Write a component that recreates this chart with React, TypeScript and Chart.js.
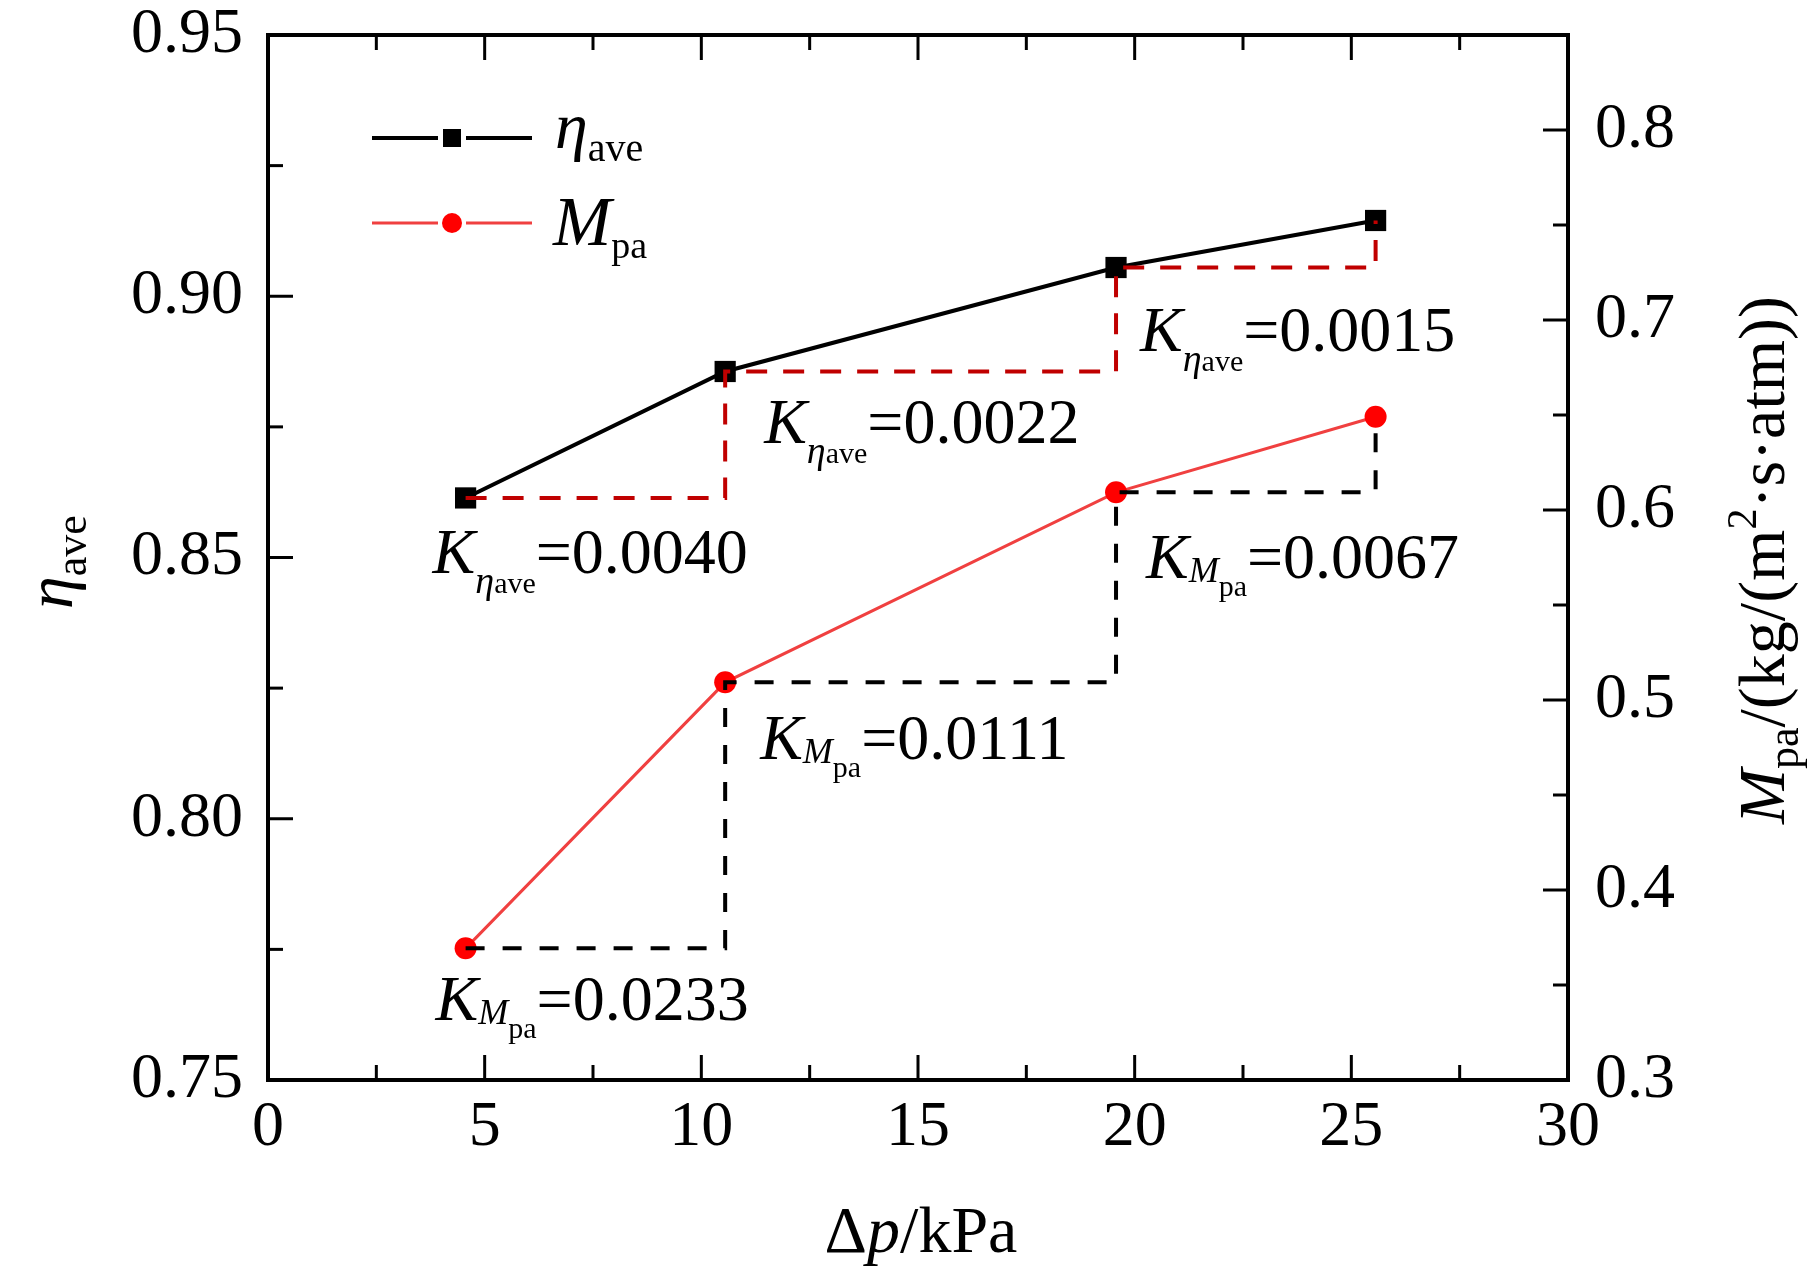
import { useEffect, useRef } from 'react'
import Chart from 'chart.js/auto'

// values
const pressureDrop = [4.56, 10.55, 19.57, 25.56]
const etaAve = [0.8614, 0.8856, 0.9055, 0.9145]
const massFlux = [0.3693, 0.5093, 0.6093, 0.6491]
const etaSlopes = ['0.0040', '0.0022', '0.0015']
const massSlopes = ['0.0233', '0.0111', '0.0067']

const xTicks = [0, 5, 10, 15, 20, 25, 30]
const xMinorTicks = [2.5, 7.5, 12.5, 17.5, 22.5, 27.5]
const etaTicks = [0.75, 0.8, 0.85, 0.9, 0.95]
const etaMinorTicks = [0.775, 0.825, 0.875, 0.925]
const massTicks = [0.3, 0.4, 0.5, 0.6, 0.7, 0.8]
const massMinorTicks = [0.35, 0.45, 0.55, 0.65, 0.75]

const SERIF = '"Liberation Serif", "Times New Roman", Times, serif'

type Seg = { t: string; size: number; italic?: boolean; dy?: number; dx?: number }

function fontOf(s: Seg) {
  return `${s.italic ? 'italic ' : ''}${s.size}px ${SERIF}`
}

function richWidth(ctx: CanvasRenderingContext2D, segs: Seg[]) {
  let w = 0
  for (const s of segs) {
    ctx.font = fontOf(s)
    w += ctx.measureText(s.t).width + (s.dx ?? 0)
  }
  return w
}

function drawRich(ctx: CanvasRenderingContext2D, segs: Seg[], x: number, y: number, center = false) {
  let cx = center ? x - richWidth(ctx, segs) / 2 : x
  ctx.textAlign = 'left'
  ctx.textBaseline = 'alphabetic'
  ctx.fillStyle = '#000'
  for (const s of segs) {
    ctx.font = fontOf(s)
    cx += s.dx ?? 0
    ctx.fillText(s.t, cx, y + (s.dy ?? 0))
    cx += ctx.measureText(s.t).width
  }
}

const etaLabel = (v: string): Seg[] => [
  { t: 'K', size: 64, italic: true },
  { t: 'η', size: 38, italic: true, dy: 20 },
  { t: 'ave', size: 30, dy: 20 },
  { t: '=' + v, size: 64 },
]

const massLabel = (v: string): Seg[] => [
  { t: 'K', size: 64, italic: true },
  { t: 'M', size: 36, italic: true, dy: 4 },
  { t: 'pa', size: 30, dy: 18 },
  { t: '=' + v, size: 64 },
]

// pixel offsets of each slope label from the point it starts at
const etaLabelOffsets = [[-33, 75], [39, 72], [24, 83]]
const massLabelOffsets = [[-30, 72], [35, 77], [30, 86]]

const noScalePadding = (s: any) => {
  s.paddingTop = 0
  s.paddingBottom = 0
  s.paddingLeft = 0
  s.paddingRight = 0
}

const framePlugin = {
  id: 'frame',
  afterDatasetsDraw(chart: any) {
    const { ctx, chartArea: a, scales } = chart
    ctx.save()
    ctx.strokeStyle = '#000'
    ctx.lineWidth = 4
    ctx.strokeRect(a.left, a.top, a.right - a.left, a.bottom - a.top)
    ctx.lineWidth = 3
    const line = (x1: number, y1: number, x2: number, y2: number) => {
      ctx.beginPath()
      ctx.moveTo(x1, y1)
      ctx.lineTo(x2, y2)
      ctx.stroke()
    }
    const xs = (vals: number[], len: number) => {
      for (const v of vals) {
        const p = scales.x.getPixelForValue(v)
        line(p, a.bottom, p, a.bottom - len)
        line(p, a.top, p, a.top + len)
      }
    }
    xs(xTicks, 25)
    xs(xMinorTicks, 15)
    for (const [vals, len] of [[etaTicks, 25], [etaMinorTicks, 15]] as [number[], number][]) {
      for (const v of vals) {
        const p = scales.yL.getPixelForValue(v)
        line(a.left, p, a.left + len, p)
      }
    }
    for (const [vals, len] of [[massTicks, 25], [massMinorTicks, 15]] as [number[], number][]) {
      for (const v of vals) {
        const p = scales.yR.getPixelForValue(v)
        line(a.right, p, a.right - len, p)
      }
    }
    ctx.restore()
  },
  afterDraw(chart: any) {
    const { ctx, scales } = chart
    ctx.save()

    // slope labels
    etaSlopes.forEach((v, i) => {
      const px = scales.x.getPixelForValue(pressureDrop[i]) + etaLabelOffsets[i][0]
      const py = scales.yL.getPixelForValue(etaAve[i]) + etaLabelOffsets[i][1]
      drawRich(ctx, etaLabel(v), px, py)
    })
    massSlopes.forEach((v, i) => {
      const px = scales.x.getPixelForValue(pressureDrop[i]) + massLabelOffsets[i][0]
      const py = scales.yR.getPixelForValue(massFlux[i]) + massLabelOffsets[i][1]
      drawRich(ctx, massLabel(v), px, py)
    })

    // legend
    const lx1 = 372, lx2 = 532, mx = 452
    ctx.lineWidth = 4
    ctx.strokeStyle = '#000'
    ctx.beginPath()
    ctx.moveTo(lx1, 138); ctx.lineTo(mx - 14, 138)
    ctx.moveTo(mx + 14, 138); ctx.lineTo(lx2, 138)
    ctx.stroke()
    ctx.fillStyle = '#000'
    ctx.fillRect(mx - 9, 138 - 9, 18, 18)
    ctx.lineWidth = 3
    ctx.strokeStyle = '#f04040'
    ctx.beginPath()
    ctx.moveTo(lx1, 223); ctx.lineTo(mx - 14, 223)
    ctx.moveTo(mx + 14, 223); ctx.lineTo(lx2, 223)
    ctx.stroke()
    ctx.fillStyle = '#ff0000'
    ctx.beginPath()
    ctx.arc(mx, 223, 10, 0, Math.PI * 2)
    ctx.fill()
    drawRich(ctx, [
      { t: 'η', size: 66, italic: true },
      { t: 'ave', size: 40, dy: 13 },
    ], 555, 148)
    drawRich(ctx, [
      { t: 'M', size: 70, italic: true },
      { t: 'pa', size: 38, dy: 13 },
    ], 553, 245)

    // axis titles
    drawRich(ctx, [
      { t: 'Δ', size: 66 },
      { t: 'p', size: 66, italic: true },
      { t: '/kPa', size: 66 },
    ], 921, 1252, true)

    ctx.save()
    ctx.translate(72, 562)
    ctx.rotate(-Math.PI / 2)
    drawRich(ctx, [
      { t: 'η', size: 66, italic: true },
      { t: 'ave', size: 44, dy: 14 },
    ], 0, 0, true)
    ctx.restore()

    ctx.save()
    ctx.translate(1784, 560)
    ctx.rotate(-Math.PI / 2)
    drawRich(ctx, [
      { t: 'M', size: 66, italic: true },
      { t: 'pa', size: 44, dy: 14 },
      { t: '/(kg/(m', size: 66 },
      { t: '2', size: 42, dy: -28 },
      { t: '·s·atm))', size: 66 },
    ], 0, 0, true)
    ctx.restore()

    ctx.restore()
  },
}

export default function App() {
  const canvasRef = useRef<HTMLCanvasElement>(null)

  useEffect(() => {
    document.body.style.margin = '0'
    if (!canvasRef.current) return

    const etaPoints = pressureDrop.map((x, i) => ({ x, y: etaAve[i] }))
    const massPoints = pressureDrop.map((x, i) => ({ x, y: massFlux[i] }))
    const tickFont = { family: SERIF, size: 64, lineHeight: 1 }

    const chart = new Chart(canvasRef.current, {
      type: 'line',
      data: {
        datasets: [
          {
            label: 'eta steps',
            data: etaPoints,
            yAxisID: 'yL',
            stepped: 'before',
            borderColor: '#c00000',
            borderWidth: 4,
            borderDash: [21, 16],
            pointRadius: 0,
            order: 1,
          },
          {
            label: 'Mpa steps',
            data: massPoints,
            yAxisID: 'yR',
            stepped: 'before',
            borderColor: '#000',
            borderWidth: 4,
            borderDash: [19, 18],
            pointRadius: 0,
            order: 1,
          },
          {
            label: 'ηave',
            data: etaPoints,
            yAxisID: 'yL',
            borderColor: '#000',
            borderWidth: 4,
            pointStyle: 'rect',
            pointRadius: 15,
            pointBackgroundColor: '#000',
            pointBorderWidth: 0,
            order: 2,
          },
          {
            label: 'Mpa',
            data: massPoints,
            yAxisID: 'yR',
            borderColor: '#f04040',
            borderWidth: 3,
            pointStyle: 'circle',
            pointRadius: 11,
            pointBackgroundColor: '#ff0000',
            pointBorderWidth: 0,
            order: 2,
          },
        ],
      },
      options: {
        animation: false,
        responsive: false,
        devicePixelRatio: 1,
        events: [],
        layout: { padding: { top: 35, left: 0, right: 0, bottom: 0 } },
        plugins: {
          legend: { display: false },
          tooltip: { enabled: false },
        },
        scales: {
          x: {
            type: 'linear',
            position: 'bottom',
            min: 0,
            max: 30,
            afterBuildTicks: (s: any) => { s.ticks = xTicks.map((value) => ({ value })) },
            afterFit: (s: any) => { s.height = 195; noScalePadding(s) },
            grid: { display: false, drawTicks: false },
            border: { display: false },
            ticks: { font: tickFont, color: '#000', padding: 16, maxRotation: 0, autoSkip: false },
          },
          yL: {
            type: 'linear',
            position: 'left',
            min: 0.75,
            max: 0.95,
            afterBuildTicks: (s: any) => { s.ticks = etaTicks.map((value) => ({ value })) },
            afterFit: (s: any) => { s.width = 268; noScalePadding(s) },
            grid: { display: false, drawTicks: false },
            border: { display: false },
            ticks: {
              font: tickFont,
              color: '#000',
              padding: 25,
              autoSkip: false,
              callback: (v: any) => Number(v).toFixed(2),
            },
          },
          yR: {
            type: 'linear',
            position: 'right',
            min: 0.3,
            max: 0.85,
            afterBuildTicks: (s: any) => { s.ticks = massTicks.map((value) => ({ value })) },
            afterFit: (s: any) => { s.width = 251; noScalePadding(s) },
            grid: { display: false, drawTicks: false },
            border: { display: false },
            ticks: {
              font: tickFont,
              color: '#000',
              padding: 27,
              autoSkip: false,
              callback: (v: any) => Number(v).toFixed(1),
            },
          },
        },
      },
      plugins: [framePlugin],
    })

    return () => {
      chart.destroy()
    }
  }, [])

  return <canvas ref={canvasRef} width={1819} height={1275} style={{ display: 'block', width: 1819, height: 1275 }} />
}
